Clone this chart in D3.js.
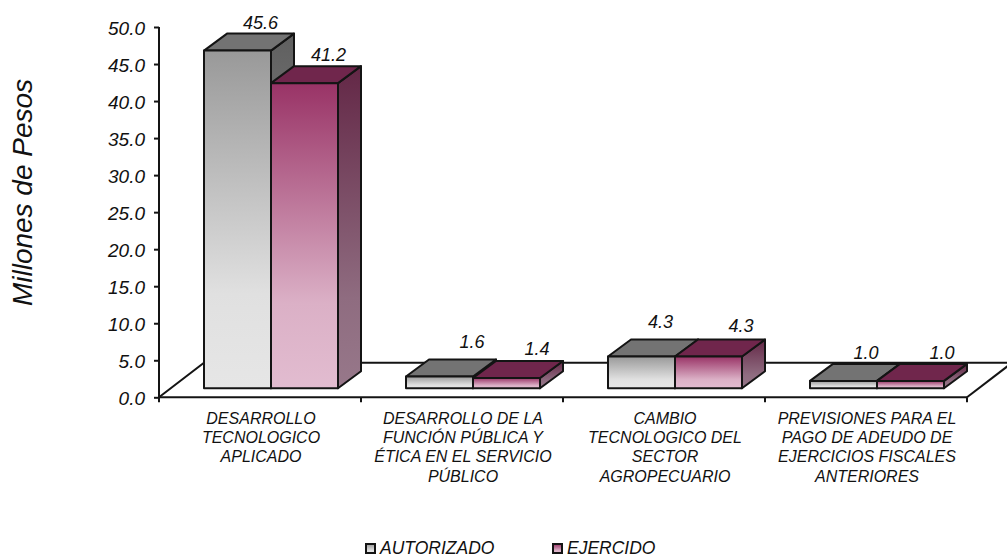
<!DOCTYPE html>
<html><head><meta charset="utf-8">
<script src="https://cdn.jsdelivr.net/npm/d3@7"></script>
<style>html,body{margin:0;padding:0;background:#fff}svg{display:block}
text{font-family:"Liberation Sans",Arial,sans-serif;font-style:italic;fill:#111}</style>
</head><body><div id="c"></div>
<script>
const categories=[
 ["DESARROLLO","TECNOLOGICO","APLICADO"],
 ["DESARROLLO DE LA","FUNCIÓN PÚBLICA Y","ÉTICA EN EL SERVICIO","PÚBLICO"],
 ["CAMBIO","TECNOLOGICO DEL","SECTOR","AGROPECUARIO"],
 ["PREVISIONES PARA EL","PAGO DE ADEUDO DE","EJERCICIOS FISCALES","ANTERIORES"]];
const seriesNames=["AUTORIZADO","EJERCIDO"];
const autorizado=[45.6,1.6,4.3,1.0];
const ejercido=[41.2,1.4,4.3,1.0];
const yTicks=[0,5,10,15,20,25,30,35,40,45,50];

const W=1007,H=559;
const svg=d3.select("#c").append("svg").attr("width",W).attr("height",H);
const x=d3.scaleBand().domain(d3.range(categories.length)).range([159,967]).paddingInner(0).paddingOuter(0);
const y=d3.scaleLinear().domain([0,50]).range([397.3,27]);
const inner=d3.scaleBand().domain([0,1]).range([45,x.bandwidth()-23]);
const series=[autorizado,ejercido];
const depthX=23,depthY=17,lift=9;
const ink="#141414";
// label placement relative to the top-back edge of each bar [series][category]
const labelDx=[[0,9.5,-4,-0.5],[1,7.5,9.5,8.5]];
const labelDy=[[-5,-11,-11,-5],[-5,-6,-7,-5]];

const defs=svg.append("defs");
function grad(id,a,m,b){const g=defs.append("linearGradient").attr("id",id).attr("x1",0).attr("y1",0).attr("x2",0).attr("y2",1);
 g.append("stop").attr("offset",0).attr("stop-color",a);
 g.append("stop").attr("offset",.72).attr("stop-color",m);
 g.append("stop").attr("offset",1).attr("stop-color",b);}
grad("f0","#999999","#e0e0e0","#e6e6e6");
grad("f1","#993366","#dbb0c6","#e2bcd0");
grad("s0","#5f5f5f","#8f8f8f","#9a9a9a");
grad("s1","#632746","#8f6c80","#97788a");
const topCol=["#737373","#70264c"];

// floor
const floor=svg.append("g").attr("fill","none").attr("stroke",ink).attr("stroke-width",2);
floor.append("path").attr("d",d3.line()([[x.range()[0],y(0)],[x.range()[0]+45,y(0)-34.5],[W,y(0)-34.5]]));
floor.append("path").attr("d",d3.line()([[x.range()[1],y(0)],[x.range()[1]+45,y(0)-34.5]]));

// bars
function bar(i,s){
 const v=series[s][i],x0=x(i)+inner(s),x1=x0+inner.bandwidth(),yb=y(0)-lift,yt=y(v)-lift;
 const g=svg.append("g").attr("stroke",ink).attr("stroke-width",2).attr("stroke-linejoin","round");
 g.append("path").attr("fill",`url(#s${s})`).attr("d",d3.line()([[x1,yt],[x1+depthX,yt-depthY],[x1+depthX,yb-depthY],[x1,yb]])+"Z");
 g.append("path").attr("fill",topCol[s]).attr("d",d3.line()([[x0,yt],[x0+depthX,yt-depthY],[x1+depthX,yt-depthY],[x1,yt]])+"Z");
 g.append("rect").attr("x",x0).attr("y",yt).attr("width",x1-x0).attr("height",yb-yt).attr("fill",`url(#f${s})`);
}
categories.forEach((c,i)=>{bar(i,0);bar(i,1);});

// axes
const ax=svg.append("g").attr("transform",`translate(${x.range()[0]},0)`)
 .call(d3.axisLeft(y).tickValues(yTicks).tickFormat(d3.format(".1f")).tickSize(5).tickPadding(9));
ax.selectAll("path,line").attr("stroke",ink).attr("stroke-width",2);
ax.select(".domain").attr("d",`M0,${y(50)}V${y(0)}`);
ax.selectAll("text").attr("dy","0.37em").style("font-size","19px").style("font-family",'"Liberation Sans",Arial,sans-serif').attr("fill","#111");

const bx=svg.append("g").attr("transform",`translate(0,${y(0)})`);
bx.append("line").attr("x1",x.range()[0]).attr("x2",x.range()[1]).attr("stroke",ink).attr("stroke-width",2);
bx.selectAll("line.t").data(d3.range(categories.length+1)).join("line").attr("class","t")
 .attr("x1",d=>x.range()[0]+d*x.step()).attr("x2",d=>x.range()[0]+d*x.step()).attr("y2",5).attr("stroke",ink).attr("stroke-width",2);

// value labels
categories.forEach((c,i)=>series.forEach((vals,s)=>{
 const cx=x(i)+inner(s)+inner.bandwidth()/2+depthX+labelDx[s][i];
 svg.append("text").attr("x",cx).attr("y",y(vals[i])-lift-depthY+labelDy[s][i])
  .attr("text-anchor","middle").style("font-size","18px").text(d3.format(".1f")(vals[i]));
}));

// category labels
categories.forEach((lines,i)=>{
 const t=svg.append("text").attr("text-anchor","middle").style("font-size","16px");
 lines.forEach((l,k)=>t.append("tspan").attr("x",x(i)+x.bandwidth()/2+1).attr("y",424+k*19.2).text(l));
});

// y title
svg.append("text").attr("transform","translate(32,192.5) rotate(-90)").attr("text-anchor","middle").style("font-size","28px").text("Millones de Pesos");

// legend
const legX=[366,553];
seriesNames.forEach((n,s)=>{
 svg.append("rect").attr("x",legX[s]).attr("y",544).attr("width",9).attr("height",9).attr("fill",`url(#f${s})`).attr("stroke",ink).attr("stroke-width",2);
 svg.append("text").attr("x",legX[s]+14).attr("y",554).style("font-size","17.5px").text(n);
});
</script></body></html>
